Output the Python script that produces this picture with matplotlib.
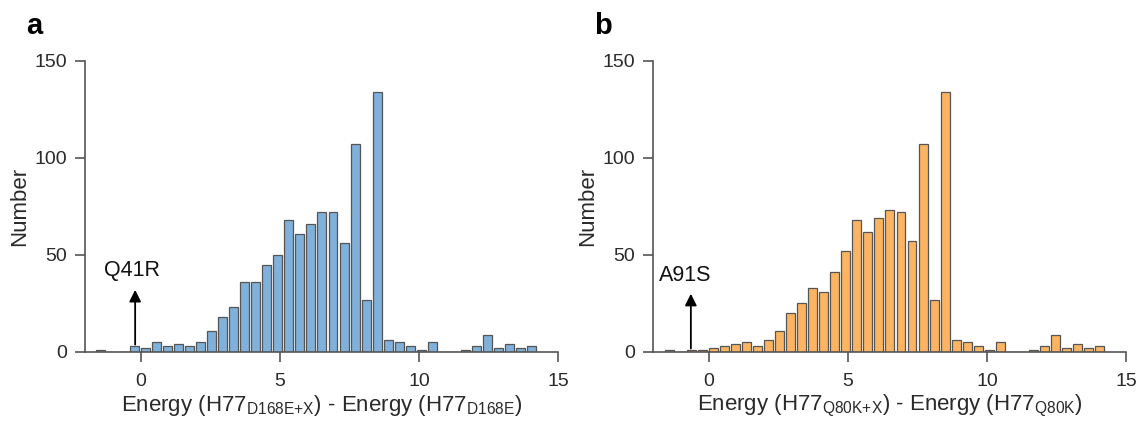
import numpy as np
import matplotlib
matplotlib.use("Agg")
import matplotlib.pyplot as plt

plt.rcParams['font.family'] = ['Liberation Sans', 'DejaVu Sans']
plt.rcParams['mathtext.fontset'] = 'custom'
plt.rcParams['mathtext.rm'] = 'Liberation Sans'

# Histogram bins (centres start at about -1.43, step about 0.397)
bin_start = -1.43
bin_step = 0.397

counts_a = [1, 0, 0, 3, 2, 5, 3, 4, 3, 5, 11, 18, 23, 36, 36, 45, 50, 68, 61, 66,
            72, 72, 56, 107, 27, 134, 6, 5, 3, 1, 5, 0, 0, 1, 3, 9, 2, 4, 2, 3]
counts_b = [1, 0, 1, 1, 2, 3, 4, 5, 3, 6, 11, 20, 25, 33, 31, 41, 52, 68, 62, 69,
            73, 72, 57, 107, 27, 134, 6, 5, 3, 1, 5, 0, 0, 1, 3, 9, 2, 4, 2, 3]

xlabels = [r"Energy (H77$_{\mathregular{D168E{+}X}}$) - Energy (H77$_{\mathregular{D168E}}$)",
           r"Energy (H77$_{\mathregular{Q80K{+}X}}$) - Energy (H77$_{\mathregular{Q80K}}$)"]
annot_text = ["Q41R", "A91S"]
annot_x = [-0.2, -0.65]
annot_base = [3.8, 1.8]
annot_tip = [32, 30]
annot_label_x = [-0.3, -0.85]
annot_label_y = [42, 39.5]
panel_labels = ["a", "b"]
colors = ["#80b1da", "#fdb462"]

xticks = [0, 5, 10, 15]
yticks = [0, 50, 100, 150]

fig = plt.figure(figsize=(11.4, 4.28), dpi=100)
axes = [fig.add_axes([0.0746, 0.1776, 0.4151, 0.6806]),
        fig.add_axes([0.5731, 0.1776, 0.4146, 0.6806])]

edge = "#555555"
txt = "#2a2a2a"
for i, (ax, counts) in enumerate(zip(axes, [counts_a, counts_b])):
    centers = bin_start + bin_step * np.arange(len(counts))
    ax.bar(centers, counts, width=bin_step * 0.81, color=colors[i],
           edgecolor=edge, linewidth=0.9, zorder=2)
    ax.set_xlim(-2, 15)
    ax.set_ylim(0, 150)
    ax.set_xticks(xticks)
    ax.set_yticks(yticks)
    for s in ["top", "right"]:
        ax.spines[s].set_visible(False)
    for s in ["left", "bottom"]:
        ax.spines[s].set_color(edge)
        ax.spines[s].set_linewidth(1.2)
    ax.tick_params(direction="out", length=7, width=1.2, color=edge,
                   labelsize=14, labelcolor=txt, pad=6)
    ax.tick_params(axis="x", pad=8)
    ax.set_xlabel(xlabels[i], fontsize=16, color=txt, labelpad=2)
    ax.set_ylabel("Number", fontsize=16, color=txt, labelpad=3)
    ax.annotate("", xy=(annot_x[i], annot_tip[i]), xytext=(annot_x[i], annot_base[i]),
                arrowprops=dict(arrowstyle="-|>,head_length=0.7,head_width=0.35",
                                color="black", lw=1.3, shrinkA=0, shrinkB=0),
                zorder=3)
    ax.text(annot_label_x[i], annot_label_y[i], annot_text[i], fontsize=15.5,
            ha="center", va="center", color="#111111")

fig.text(34 / 1140, 1 - 26 / 428, panel_labels[0], fontsize=21, fontweight="bold",
         ha="center", va="center")
fig.text(603 / 1140, 1 - 26 / 428, panel_labels[1], fontsize=21, fontweight="bold",
         ha="center", va="center")

fig.savefig("out.png", dpi=100, facecolor="white")
